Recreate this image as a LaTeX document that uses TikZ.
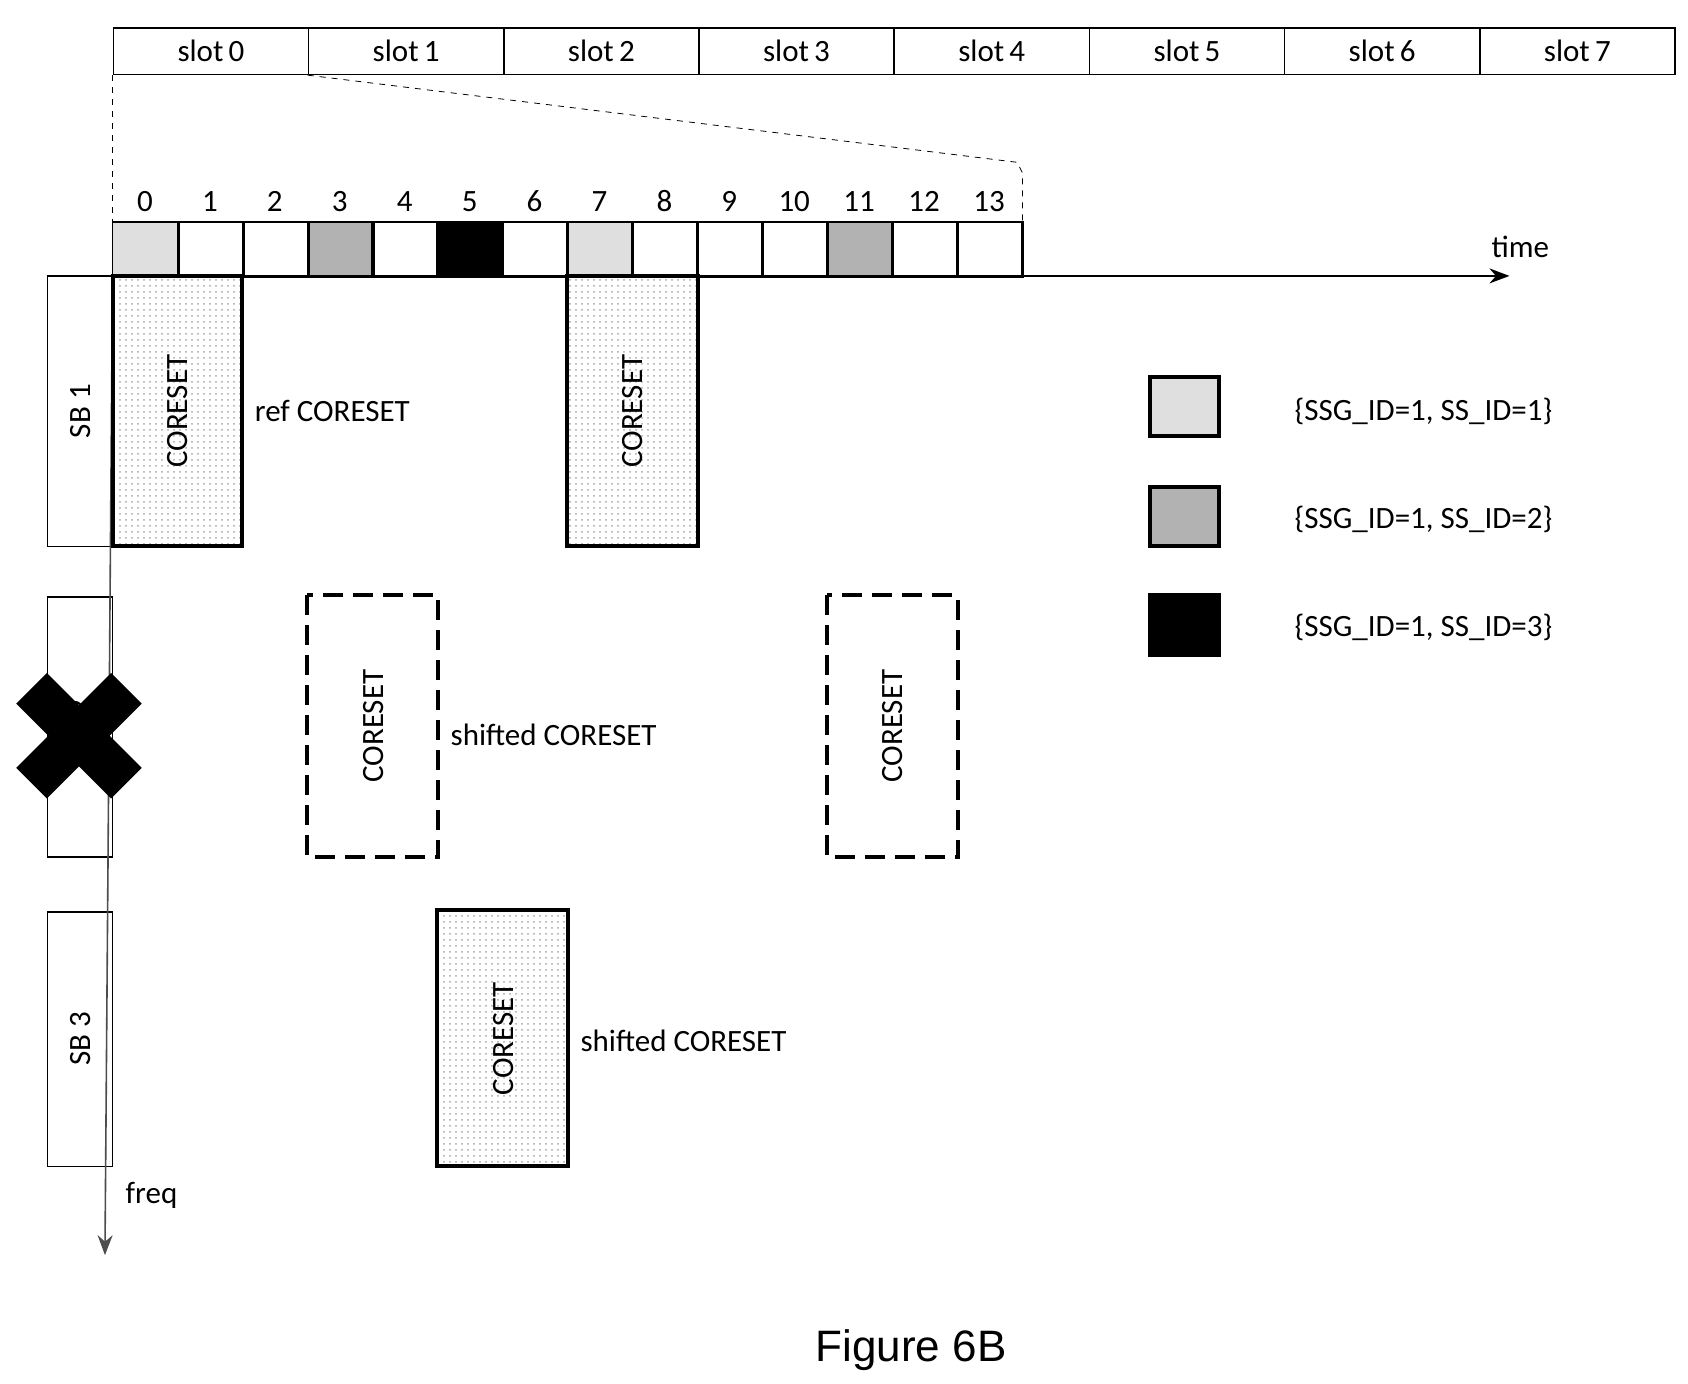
\documentclass[tikz,border=0pt]{standalone}
\usepackage{fontspec}
\setmainfont{Carlito}
\newfontfamily\arialf{Liberation Sans}
\usetikzlibrary{patterns,arrows.meta}
\begin{document}
\begin{tikzpicture}[x=0.541pt,y=-0.541pt,
  cell/.style={draw,line width=0.8pt},
  cs/.style={draw,line width=2pt,pattern=dots,pattern color=gray!70},
  csd/.style={draw,line width=2pt,dash pattern=on 10pt off 5pt},
  sb/.style={draw,line width=0.8pt},
  txt/.style={font=\fontsize{15.5}{18}\selectfont},
  leg/.style={draw,line width=2pt}]
\useasboundingbox (0,0) rectangle (1560,1279);
% slots
\foreach \i in {0,...,7}{
  \node[cell,minimum width={180.4*0.541pt},minimum height={43*0.541pt},anchor=north west,inner sep=0,txt] (slot\i) at ({104+180.4*\i},25) {slot\,\i};}
% dashed zoom lines
\draw[dashed] (slot0.south west) -- (104,205);
\draw[dashed] (slot1.south west) -- (940,150) -- (945,160) -- (945,205);
% symbols
\foreach \i in {0,...,13}{
  \node[cell,minimum width={60*0.541pt},minimum height={50*0.541pt},anchor=north west,inner sep=0] (sym\i) at ({104+60*\i},205) {};
  \node[txt] at ({134+60*\i},186) {\i};}
\fill[gray!25] (sym0.south west) rectangle (sym0.north east);
\fill[gray!25] (sym7.south west) rectangle (sym7.north east);
\fill[gray!60] (sym3.south west) rectangle (sym3.north east);
\fill[gray!60] (sym11.south west) rectangle (sym11.north east);
\fill[black] (sym5.south west) rectangle (sym5.north east);
\foreach \i in {0,...,13} \draw[line width=0.8pt] (sym\i.south west) rectangle (sym\i.north east);
% axes
\coordinate (o) at (104,255);
\coordinate (tend) at (1395,255);
\coordinate (fend) at (97,1160);
\draw[line width=0.8pt,-{Stealth[length=10pt]}] (o) -- (tend);
\node[txt,anchor=south] (time) at (1405,245) {time};
% subbands
\draw[sb] (44,255) rectangle (104,505);
\node[txt,rotate=90] (sb1) at (74,380) {SB 1};
\draw[sb] (44,552) rectangle (104,792);
\node[txt,rotate=90] (sb2) at (74,672) {SB 2};
\draw[sb] (44,843) rectangle (104,1078);
\node[txt,rotate=90] (sb3) at (74,960) {SB 3};
\draw[line width=0.8pt,gray!60!black,-{Stealth[length=10pt]}] (o) -- (fend);
\node[txt] (freq) at (140,1105) {freq};
% X
\fill[black,rotate around={45:(73,680)}] (11,660) rectangle (135,700);
\fill[black,rotate around={-45:(73,680)}] (11,660) rectangle (135,700);
% coresets
\draw[cs] (104,255) rectangle (224,505);
\node[txt,rotate=90] at (164,380) {CORESET};
\draw[cs] (524,255) rectangle (645,505);
\node[txt,rotate=90] at (585,380) {CORESET};
\draw[cs] (404,841) rectangle (525,1078);
\node[txt,rotate=90] at (465,960) {CORESET};
\draw[csd] (284,550) rectangle (405,792);
\node[txt,rotate=90] at (345,671) {CORESET};
\draw[csd] (764,550) rectangle (885,792);
\node[txt,rotate=90] at (825,671) {CORESET};
\node[txt,anchor=west] at (229,380) {ref CORESET};
\node[txt,anchor=west] at (410,679) {shifted CORESET};
\node[txt,anchor=west] at (530,962) {shifted CORESET};
% legend
\draw[leg,fill=gray!25] (1063,348) rectangle (1127,403);
\draw[leg,fill=gray!60] (1063,450) rectangle (1127,505);
\draw[leg,fill=black] (1063,550) rectangle (1127,605);
\node[txt,anchor=west] at (1190,380) {\{SSG\_ID=1, SS\_ID=1\}};
\node[txt,anchor=west] at (1190,480) {\{SSG\_ID=1, SS\_ID=2\}};
\node[txt,anchor=west] at (1190,580) {\{SSG\_ID=1, SS\_ID=3\}};
\node[font=\arialf\fontsize{22}{26}\selectfont] at (842,1248) {Figure 6B};
\end{tikzpicture}
\end{document}
